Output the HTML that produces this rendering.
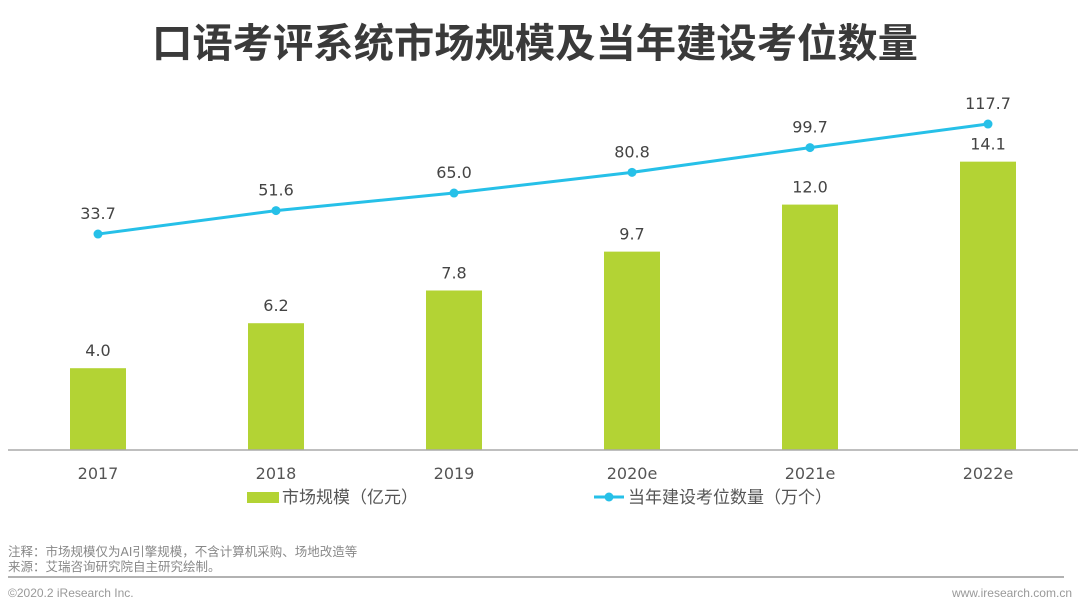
<!DOCTYPE html>
<html><head><meta charset="utf-8"><style>
body{margin:0;width:1080px;height:609px;background:#fff;overflow:hidden;font-family:"Liberation Sans","Noto Sans CJK SC",sans-serif;}
svg{display:block}
.num{font-family:"DejaVu Sans",sans-serif;}
</style></head><body>
<svg id="chart" width="1080" height="609">
<text x="535" y="57" text-anchor="middle" font-size="40" font-weight="bold" fill="#3a3a3a" font-family="Noto Sans CJK SC, sans-serif" textLength="766" lengthAdjust="spacingAndGlyphs">口语考评系统市场规模及当年建设考位数量</text>
<g id="bars"></g><g id="line"></g><g id="xlabels"></g>
<line x1="8" y1="450" x2="1078" y2="450" stroke="#aaa" stroke-width="1.5"/>
<g>
<rect x="247" y="492" width="32" height="11" fill="#b3d334"/>
<text x="282" y="503" font-size="17" fill="#555">市场规模（亿元）</text></g>
<g>
<line x1="594" y1="497" x2="624" y2="497" stroke="#26c0e8" stroke-width="3"/>
<circle cx="609" cy="497" r="4.5" fill="#26c0e8"/>
<text x="628" y="503" font-size="17" fill="#555">当年建设考位数量（万个）</text></g>
<text x="8" y="556" font-size="12.5" fill="#888">注释：市场规模仅为AI引擎规模，不含计算机采购、场地改造等</text>
<text x="8" y="571" font-size="12.5" fill="#888">来源：艾瑞咨询研究院自主研究绘制。</text>
<line x1="8" y1="577" x2="1064" y2="577" stroke="#999" stroke-width="1.5"/>
<text x="8" y="597" font-size="12" fill="#999">©2020.2 iResearch Inc.</text>
<text x="1072" y="597" font-size="12" fill="#999" text-anchor="end">www.iresearch.com.cn</text>
</svg>
<script>
const categories=["2017","2018","2019","2020e","2021e","2022e"];
const marketSize=[4.0,6.2,7.8,9.7,12.0,14.1];
const seats=[33.7,51.6,65.0,80.8,99.7,117.7];
const NS="http://www.w3.org/2000/svg";
function xPos(i){return 98+i*178;}
function yBar(v){return 450-v*20.45;}
function yLine(v){return 278.2-v*1.31;}
function mk(tag,attrs,parent){const e=document.createElementNS(NS,tag);for(const k in attrs)e.setAttribute(k,attrs[k]);parent.appendChild(e);return e;}
const gb=document.getElementById('bars'),gl=document.getElementById('line'),gx=document.getElementById('xlabels');
categories.forEach((c,i)=>{
 const x=xPos(i),v=marketSize[i];
 const r=mk('rect',{x:x-28,y:yBar(v),width:56,height:450-yBar(v),fill:'#b3d334'},gb);
 
 
 const t=mk('text',{x:x,y:yBar(v)-12,'text-anchor':'middle','font-size':16,fill:'#444',class:'num'},gb);
 t.textContent=v.toFixed(1);
 
 
 const xl=mk('text',{x:x,y:479,'text-anchor':'middle','font-size':16,fill:'#555',class:'num'},gx);
 xl.textContent=c;
 
 
});
const pts=seats.map((v,i)=>xPos(i)+','+yLine(v)).join(' ');
const pl=mk('polyline',{points:pts,fill:'none',stroke:'#26c0e8','stroke-width':3},gl);


seats.forEach((v,i)=>{
 const c=mk('circle',{cx:xPos(i),cy:yLine(v),r:4.5,fill:'#26c0e8'},gl);
 
 
 const t=mk('text',{x:xPos(i),y:yLine(v)-15,'text-anchor':'middle','font-size':16,fill:'#444',class:'num'},gl);
 t.textContent=v.toFixed(1);
 
 
});
</script>
</body></html>
